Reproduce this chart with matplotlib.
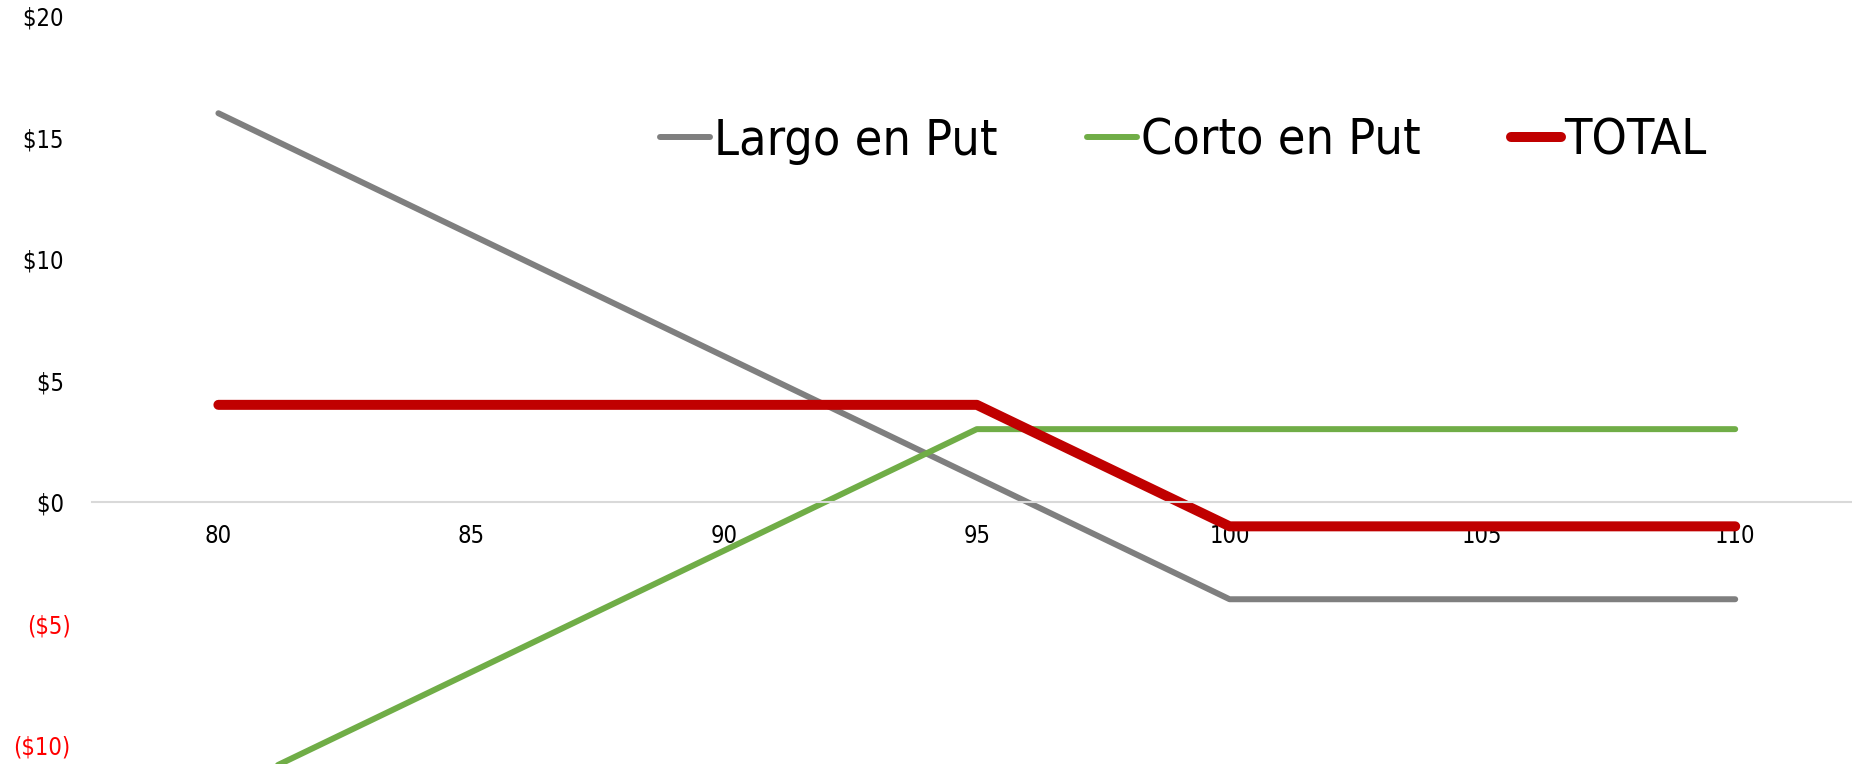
import matplotlib
matplotlib.use("Agg")
import matplotlib.pyplot as plt

# ---------------------------
# Data
# ---------------------------

precios = [80, 85, 90, 95, 100, 105, 110]
largo_put = [16, 11, 6, 1, -4, -4, -4]
corto_put = [-12, -7, -2, 3, 3, 3, 3]
total = [4, 4, 4, 4, -1, -1, -1]

y_ticks = [-10, -5, 0, 5, 10, 15, 20]
y_labels = ["($10)", "($5)", "$0\u2008", "$5\u2008", "$10\u2008", "$15\u2008", "$20\u2008"]

plt.rcParams["font.family"] = ["DejaVu Sans"]
plt.rcParams["font.stretch"] = "condensed"

# ---------------------------
# Figure
# ---------------------------

fig = plt.figure(figsize=(18.52, 7.64), dpi=100)
ax = fig.add_axes([92 / 1852, 0, 1 - 92 / 1852, 1])

ax.plot(precios, largo_put, color="#7f7f7f", lw=4.3,
        solid_capstyle="round", solid_joinstyle="round", label="Largo en Put")
ax.plot(precios, corto_put, color="#70ad47", lw=4.3,
        solid_capstyle="round", solid_joinstyle="round", label="Corto en Put")
ax.plot(precios, total, color="#c00000", lw=7.2,
        solid_capstyle="round", solid_joinstyle="round", label="TOTAL")

ax.set_xlim(77.5, 112.31)
ax.set_ylim(-10.78, 20.66)

for s in ["top", "right", "left"]:
    ax.spines[s].set_visible(False)
ax.spines["bottom"].set_position(("data", 0))
ax.spines["bottom"].set_color("#d9d9d9")
ax.spines["bottom"].set_linewidth(1.5)

ax.set_xticks(precios)
ax.set_xticklabels([str(p) for p in precios])
ax.tick_params(axis="x", length=0, pad=16, labelsize=17)

ax.set_yticks(y_ticks)
ax.set_yticklabels(y_labels)
ax.tick_params(axis="y", length=0, pad=15.5, labelsize=17)
for lbl, v in zip(ax.get_yticklabels(), y_ticks):
    lbl.set_color("red" if v < 0 else "black")

ax.patch.set_visible(False)

fig.legend(loc="center", bbox_to_anchor=(0.639, 0.816), ncol=3,
           frameon=False, fontsize=36, handlelength=1.0,
           handletextpad=0.07, columnspacing=1.8)

plt.savefig("out.png", dpi=100)
